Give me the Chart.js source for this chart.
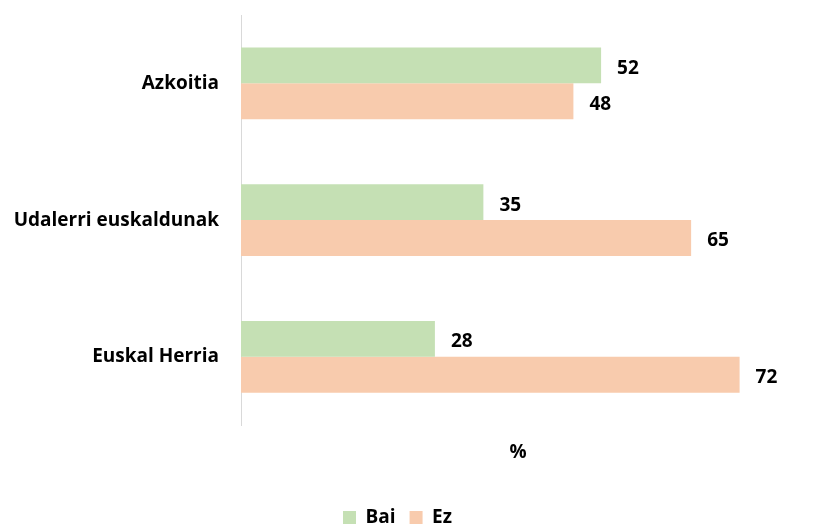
<!DOCTYPE html>
<html>
<head>
<meta charset="utf-8">
<script src="https://cdn.jsdelivr.net/npm/chart.js@4"></script>
<style>
  html, body { margin: 0; padding: 0; background: #fff; }
  #wrap { width: 821px; height: 525px; }
</style>
</head>
<body>
<div id="wrap"><canvas id="chart" width="821" height="525"></canvas></div>
<script>
const categories = ['Azkoitia', 'Udalerri euskaldunak', 'Euskal Herria'];
const baiValues = [52, 35, 28];
const ezValues = [48, 65, 72];
const axisTitle = '%';

const FONT = '"Open Sans", sans-serif';

// writes the value just right of each bar end
const valueLabels = {
  id: 'valueLabels',
  afterDatasetsDraw(chart) {
    const ctx = chart.ctx;
    ctx.save();
    ctx.font = 'bold 19px ' + FONT;
    ctx.fillStyle = '#000';
    ctx.textAlign = 'left';
    ctx.textBaseline = 'middle';
    chart.data.datasets.forEach((ds, i) => {
      chart.getDatasetMeta(i).data.forEach((bar, j) => {
        ctx.fillText(ds.data[j], bar.x + 16, bar.y + 3);
      });
    });
    ctx.restore();
  }
};

new Chart(document.getElementById('chart'), {
  type: 'bar',
  data: {
    labels: categories,
    datasets: [
      { label: 'Bai', data: baiValues, backgroundColor: '#c5e0b4' },
      { label: 'Ez', data: ezValues, backgroundColor: '#f8cbad' }
    ]
  },
  options: {
    indexAxis: 'y',
    responsive: false,
    animation: false,
    categoryPercentage: 0.525,
    barPercentage: 1,
    layout: { padding: { top: 15, right: 26, left: 0, bottom: -12 } },
    scales: {
      x: {
        min: 0,
        max: 80,
        grid: { display: false },
        border: { display: false },
        ticks: { display: false },
        title: {
          display: true,
          text: axisTitle,
          color: '#000',
          font: { family: FONT, size: 19, weight: 'bold' },
          padding: { top: 8, bottom: 30 }
        }
      },
      y: {
        afterFit(scale) {
          scale.width = 241;
          scale.paddingTop = 0;
          scale.paddingBottom = 0;
        },
        grid: { display: false, drawTicks: false },
        border: { display: true, color: '#d9d9d9', width: 1 },
        ticks: {
          color: '#000',
          padding: 22,
          font: { family: FONT, size: 19, weight: 'bold' }
        }
      }
    },
    plugins: {
      legend: {
        position: 'bottom',
        labels: {
          boxWidth: 13,
          boxHeight: 13,
          padding: 14,
          color: '#000',
          font: { family: FONT, size: 19, weight: 'bold' }
        }
      },
      tooltip: { enabled: false }
    }
  },
  plugins: [valueLabels]
});
</script>
</body>
</html>
